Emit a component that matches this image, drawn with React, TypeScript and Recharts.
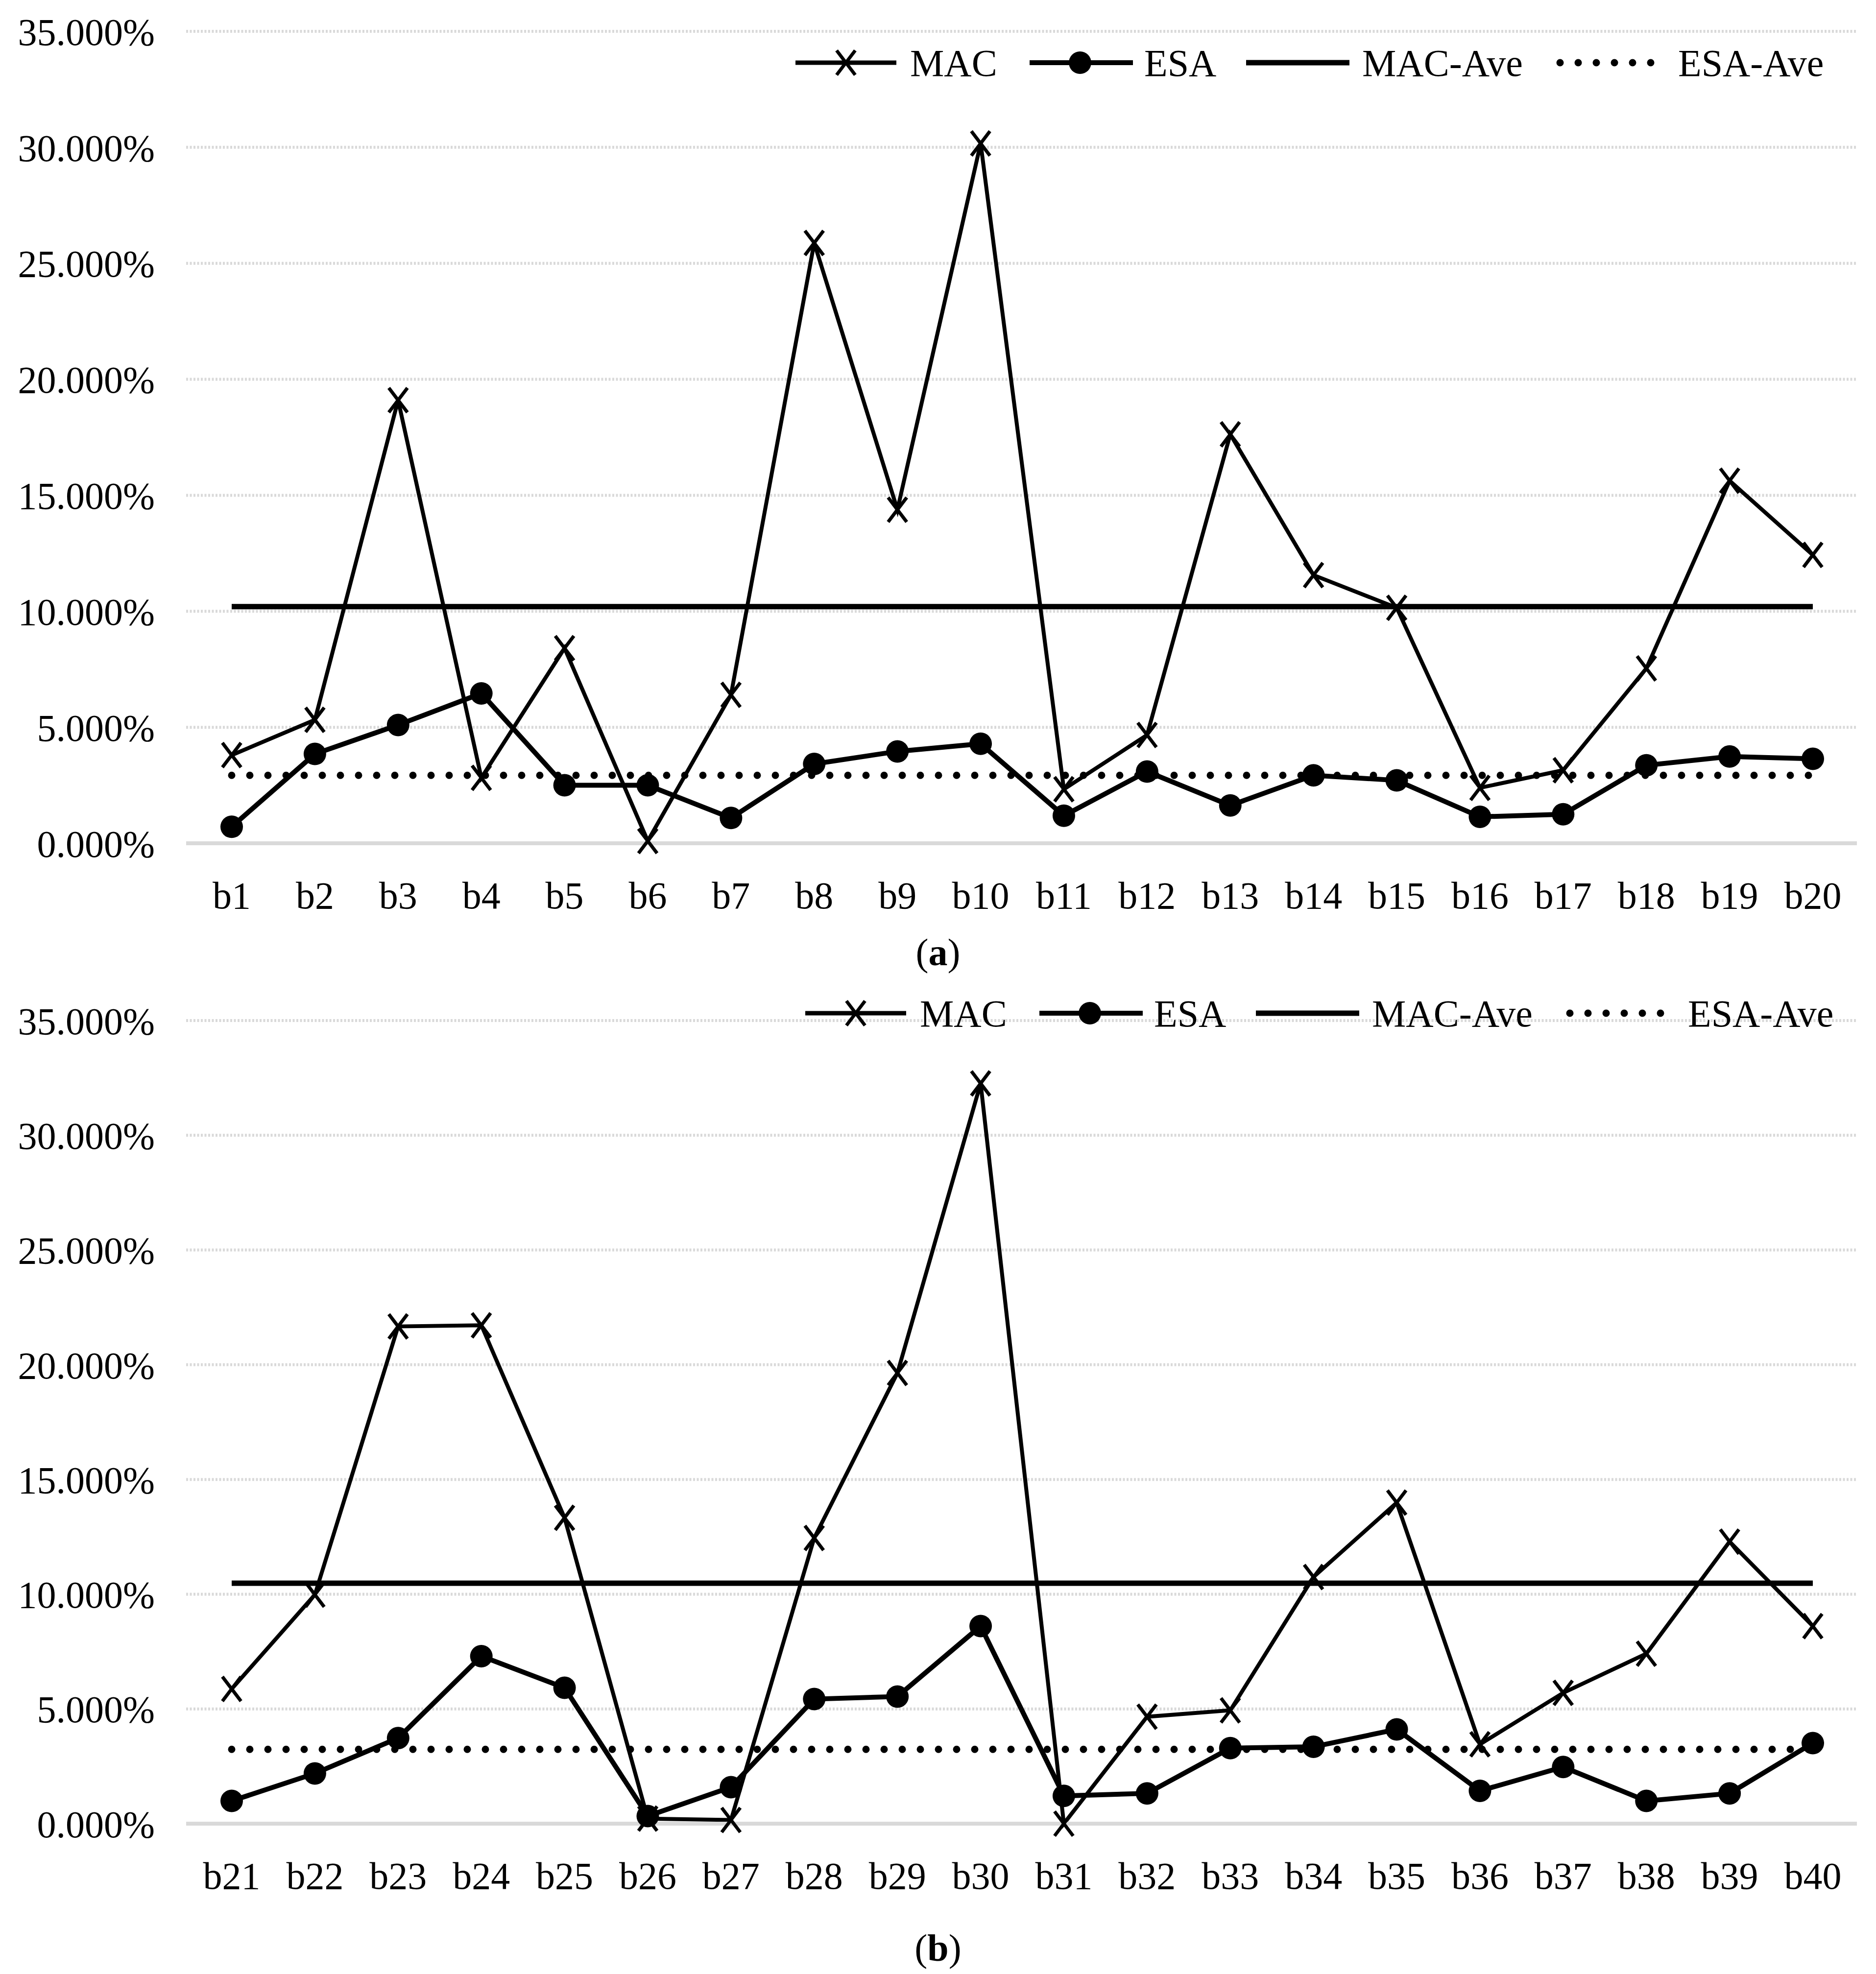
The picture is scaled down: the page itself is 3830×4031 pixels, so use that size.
import React from "react";
import { LineChart, Line, XAxis, YAxis, CartesianGrid, ReferenceLine } from "recharts";

const CATS_A = ["b1", "b2", "b3", "b4", "b5", "b6", "b7", "b8", "b9", "b10", "b11", "b12", "b13", "b14", "b15", "b16", "b17", "b18", "b19", "b20"];
const MAC_A = [3.8, 5.32, 19.1, 2.82, 8.41, 0.1, 6.4, 25.88, 14.38, 30.17, 2.33, 4.67, 17.63, 11.56, 10.15, 2.39, 3.15, 7.54, 15.63, 12.43];
const ESA_A = [0.71, 3.85, 5.1, 6.46, 2.5, 2.5, 1.09, 3.42, 3.96, 4.29, 1.19, 3.09, 1.63, 2.93, 2.71, 1.14, 1.25, 3.36, 3.74, 3.64];
const MAC_AVE_A = 10.2;
const ESA_AVE_A = 2.93;

const CATS_B = ["b21", "b22", "b23", "b24", "b25", "b26", "b27", "b28", "b29", "b30", "b31", "b32", "b33", "b34", "b35", "b36", "b37", "b38", "b39", "b40"];
const MAC_B = [5.87, 9.98, 21.67, 21.72, 13.33, 0.22, 0.16, 12.45, 19.64, 32.26, 0.0, 4.66, 4.94, 10.75, 13.99, 3.46, 5.7, 7.41, 12.29, 8.61];
const ESA_B = [0.99, 2.19, 3.73, 7.3, 5.92, 0.33, 1.59, 5.43, 5.54, 8.61, 1.21, 1.32, 3.29, 3.35, 4.11, 1.43, 2.47, 0.99, 1.32, 3.51];
const MAC_AVE_B = 10.48;
const ESA_AVE_B = 3.24;

const Y_TICKS = [0, 5, 10, 15, 20, 25, 30, 35];

const FONT = "'Liberation Serif', 'DejaVu Serif', serif";
const FS = 78;
const W = 3814;

const CrossDot = (props: any) => {
  const { cx, cy, index } = props;
  if (cx == null || cy == null) return null;
  return (
    <g key={`x-${index}`}>
      <line x1={cx - 19} y1={cy - 25} x2={cx + 19} y2={cy + 25} stroke="#000" strokeWidth={7} />
      <line x1={cx + 19} y1={cy - 25} x2={cx - 19} y2={cy + 25} stroke="#000" strokeWidth={7} />
    </g>
  );
};

const RoundDot = (props: any) => {
  const { cx, cy, index } = props;
  if (cx == null || cy == null) return null;
  return <circle key={`o-${index}`} cx={cx} cy={cy} r={23} fill="#000" />;
};

function LegendRow({ left, top }: { left: number; top: number }) {
  const cy = 50;
  const txt = { fontFamily: FONT, fontSize: FS, fill: "#000" };
  return (
    <svg width={2200} height={100} style={{ position: "absolute", left, top }}>
      <line x1={0} y1={cy} x2={206} y2={cy} stroke="#000" strokeWidth={9} />
      <CrossDot cx={103} cy={cy} index={0} />
      <text x={234} y={cy} dy="0.35em" style={txt}>MAC</text>
      <line x1={478} y1={cy} x2={689} y2={cy} stroke="#000" strokeWidth={10} />
      <RoundDot cx={581} cy={cy} index={0} />
      <text x={712} y={cy} dy="0.35em" style={txt}>ESA</text>
      <line x1={920} y1={cy} x2={1131} y2={cy} stroke="#000" strokeWidth={11} />
      <text x={1157} y={cy} dy="0.35em" style={txt}>MAC-Ave</text>
      <line x1={1561} y1={cy} x2={1763} y2={cy} stroke="#000" strokeWidth={15} strokeDasharray="0 37" strokeLinecap="round" />
      <text x={1802} y={cy} dy="0.35em" style={txt}>ESA-Ave</text>
    </svg>
  );
}

function Panel({ cats, mac, esa, macAve, esaAve, top, marginTop, plotH }: any) {
  const rows = cats.map((c: string, i: number) => ({ cat: c, mac: mac[i], esa: esa[i] }));
  const first = cats[0];
  const last = cats[cats.length - 1];
  const tickStyle = { fontFamily: FONT, fontSize: FS, fill: "#000" };
  return (
    <div style={{ position: "absolute", left: 0, top }}>
      <LineChart width={W} height={marginTop + plotH + 150} data={rows} margin={{ top: marginTop, right: 31, bottom: 0, left: 0 }}>
        <CartesianGrid vertical={false} stroke="#d9d9d9" strokeWidth={6} strokeDasharray="4 3.5" />
        <XAxis
          dataKey="cat"
          height={150}
          padding={{ left: 93, right: 90 }}
          tickLine={false}
          tickSize={0}
          tickMargin={78}
          axisLine={{ stroke: "#d9d9d9", strokeWidth: 8 }}
          tick={tickStyle}
          interval={0}
        />
        <YAxis
          width={372}
          domain={[0, 35]}
          ticks={Y_TICKS}
          axisLine={false}
          tickLine={false}
          tickSize={0}
          tickMargin={64}
          tick={tickStyle}
          tickFormatter={(v: number) => `${v.toFixed(3)}%`}
        />
        <Line type="linear" dataKey="mac" stroke="#000" strokeWidth={8} dot={CrossDot} isAnimationActive={false} />
        <Line type="linear" dataKey="esa" stroke="#000" strokeWidth={10} dot={RoundDot} isAnimationActive={false} />
        <ReferenceLine segment={[{ x: first, y: macAve }, { x: last, y: macAve }]} stroke="#000" strokeWidth={11} />
        <ReferenceLine
          segment={[{ x: first, y: esaAve }, { x: last, y: esaAve }]}
          stroke="#000"
          strokeWidth={15}
          strokeDasharray="0 37"
          strokeLinecap="round"
        />
      </LineChart>
    </div>
  );
}

function Caption({ letter, top }: { letter: string; top: number }) {
  return (
    <div
      style={{
        position: "absolute",
        left: 0,
        top,
        width: W,
        height: 100,
        lineHeight: "100px",
        textAlign: "center",
        fontFamily: FONT,
        fontSize: FS,
        color: "#000",
      }}
    >
      (<b>{letter}</b>)
    </div>
  );
}

export default function App() {
  return (
    <div style={{ position: "relative", width: W, height: 4015, background: "#fff" }}>
      <Panel cats={CATS_A} mac={MAC_A} esa={ESA_A} macAve={MAC_AVE_A} esaAve={ESA_AVE_A} top={0} marginTop={56} plotH={1658} />
      <LegendRow left={1616} top={70} />
      <Caption letter="a" top={1887} />
      <Panel cats={CATS_B} mac={MAC_B} esa={ESA_B} macAve={MAC_AVE_B} esaAve={ESA_AVE_B} top={2000} marginTop={76} plotH={1640} />
      <LegendRow left={1636} top={2011} />
      <Caption letter="b" top={3920} />
    </div>
  );
}
